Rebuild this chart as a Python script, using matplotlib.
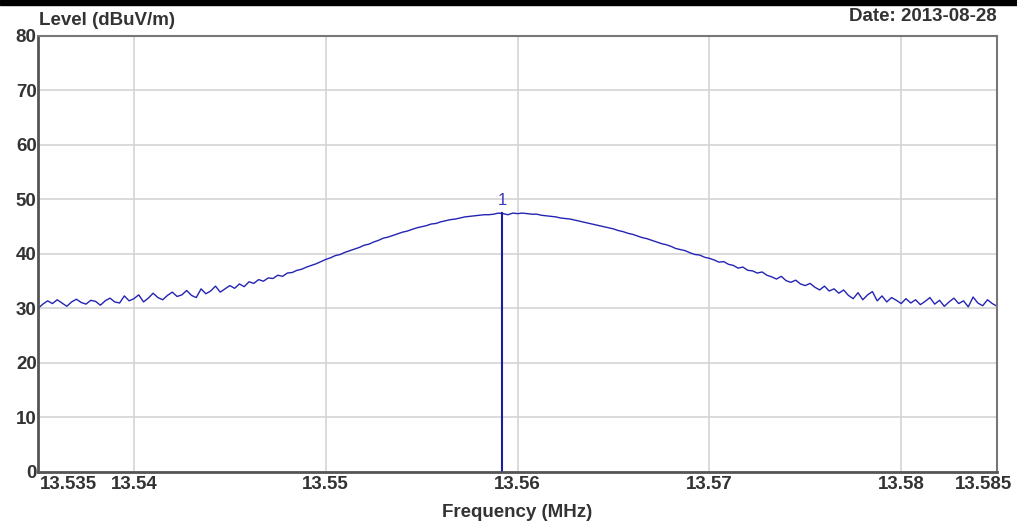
import matplotlib
matplotlib.use("Agg")
import matplotlib.pyplot as plt
import matplotlib.transforms as mtransforms

plt.rcParams['font.family'] = ['Liberation Sans', 'DejaVu Sans']

# sweep readings (MHz, dBuV/m)
freq = [
    13.53500, 13.53525, 13.53550, 13.53575, 13.53600, 13.53625, 13.53650, 13.53675,
    13.53700, 13.53725, 13.53750, 13.53775, 13.53800, 13.53825, 13.53850, 13.53875,
    13.53900, 13.53925, 13.53950, 13.53975, 13.54000, 13.54025, 13.54050, 13.54075,
    13.54100, 13.54125, 13.54150, 13.54175, 13.54200, 13.54225, 13.54250, 13.54275,
    13.54300, 13.54325, 13.54350, 13.54375, 13.54400, 13.54425, 13.54450, 13.54475,
    13.54500, 13.54525, 13.54550, 13.54575, 13.54600, 13.54625, 13.54650, 13.54675,
    13.54700, 13.54725, 13.54750, 13.54775, 13.54800, 13.54825, 13.54850, 13.54875,
    13.54900, 13.54925, 13.54950, 13.54975, 13.55000, 13.55025, 13.55050, 13.55075,
    13.55100, 13.55125, 13.55150, 13.55175, 13.55200, 13.55225, 13.55250, 13.55275,
    13.55300, 13.55325, 13.55350, 13.55375, 13.55400, 13.55425, 13.55450, 13.55475,
    13.55500, 13.55525, 13.55550, 13.55575, 13.55600, 13.55625, 13.55650, 13.55675,
    13.55700, 13.55725, 13.55750, 13.55775, 13.55800, 13.55825, 13.55850, 13.55875,
    13.55900, 13.55925, 13.55950, 13.55975, 13.56000, 13.56025, 13.56050, 13.56075,
    13.56100, 13.56125, 13.56150, 13.56175, 13.56200, 13.56225, 13.56250, 13.56275,
    13.56300, 13.56325, 13.56350, 13.56375, 13.56400, 13.56425, 13.56450, 13.56475,
    13.56500, 13.56525, 13.56550, 13.56575, 13.56600, 13.56625, 13.56650, 13.56675,
    13.56700, 13.56725, 13.56750, 13.56775, 13.56800, 13.56825, 13.56850, 13.56875,
    13.56900, 13.56925, 13.56950, 13.56975, 13.57000, 13.57025, 13.57050, 13.57075,
    13.57100, 13.57125, 13.57150, 13.57175, 13.57200, 13.57225, 13.57250, 13.57275,
    13.57300, 13.57325, 13.57350, 13.57375, 13.57400, 13.57425, 13.57450, 13.57475,
    13.57500, 13.57525, 13.57550, 13.57575, 13.57600, 13.57625, 13.57650, 13.57675,
    13.57700, 13.57725, 13.57750, 13.57775, 13.57800, 13.57825, 13.57850, 13.57875,
    13.57900, 13.57925, 13.57950, 13.57975, 13.58000, 13.58025, 13.58050, 13.58075,
    13.58100, 13.58125, 13.58150, 13.58175, 13.58200, 13.58225, 13.58250, 13.58275,
    13.58300, 13.58325, 13.58350, 13.58375, 13.58400, 13.58425, 13.58450, 13.58475,
    13.58500,
]
level = [
    30.0, 30.8, 31.4, 30.9, 31.6, 31.0, 30.4, 31.2, 31.7, 31.1,
    30.8, 31.5, 31.3, 30.6, 31.4, 31.9, 31.2, 31.0, 32.3, 31.4,
    31.8, 32.5, 31.2, 31.9, 32.8, 32.0, 31.6, 32.4, 33.0, 32.2,
    32.5, 33.3, 32.4, 32.0, 33.6, 32.7, 33.2, 34.1, 33.0, 33.6,
    34.2, 33.7, 34.5, 34.0, 34.9, 34.6, 35.3, 35.0, 35.6, 35.5,
    36.1, 35.9, 36.5, 36.6, 37.0, 37.2, 37.6, 37.9, 38.2, 38.6,
    39.0, 39.3, 39.7, 39.9, 40.3, 40.6, 40.9, 41.2, 41.6, 41.8,
    42.2, 42.5, 42.9, 43.1, 43.4, 43.7, 44.0, 44.2, 44.5, 44.8,
    45.0, 45.2, 45.5, 45.6, 45.9, 46.1, 46.3, 46.4, 46.6, 46.8,
    46.9, 47.0, 47.1, 47.2, 47.2, 47.3, 47.5, 47.4, 47.2, 47.5,
    47.4, 47.5, 47.4, 47.3, 47.3, 47.1, 47.0, 46.9, 46.8, 46.6,
    46.5, 46.4, 46.2, 46.0, 45.8, 45.6, 45.4, 45.2, 45.0, 44.8,
    44.6, 44.3, 44.1, 43.8, 43.6, 43.3, 43.0, 42.8, 42.5, 42.2,
    41.9, 41.7, 41.4, 41.0, 40.8, 40.6, 40.2, 39.9, 39.8, 39.4,
    39.2, 38.9, 38.5, 38.6, 38.1, 37.9, 37.4, 37.6, 37.0, 36.9,
    36.5, 36.7, 36.1, 35.8, 35.4, 35.9, 35.1, 34.8, 35.2, 34.5,
    34.2, 34.6, 33.9, 33.4, 34.1, 33.2, 33.6, 32.8, 33.4, 32.4,
    31.8, 32.9, 31.6, 32.5, 33.1, 31.4, 32.3, 31.2, 32.0, 31.5,
    30.9, 31.8, 31.0, 31.6, 30.7, 31.3, 32.0, 30.8, 31.5, 30.4,
    31.2, 31.9, 30.9, 31.4, 30.3, 32.1, 31.0, 30.5, 31.6, 30.9,
    30.4,
]

marker_freq = 13.5592
marker_level = 47.5
marker_name = "1"

xticks = [13.535, 13.54, 13.55, 13.56, 13.57, 13.58, 13.585]
xtick_labels = ["13.535", "13.54", "13.55", "13.56", "13.57", "13.58", "13.585"]
yticks = [0, 10, 20, 30, 40, 50, 60, 70, 80]

txt = '#333333'
trace = '#2424b4'

fig = plt.figure(figsize=(10.17, 5.29), dpi=100, facecolor='w')
ax = fig.add_axes([0.0374, 0.1078, 0.9430, 0.8242])

ax.plot(freq, level, color=trace, linewidth=1.0)
ax.plot([marker_freq, marker_freq], [0, marker_level], color='#1c1ca0', linewidth=1.5)
ax.text(marker_freq, marker_level + 1.0, marker_name, color='#3a3ab8',
        fontsize=12, ha='center', va='bottom')

ax.set_xlim(13.535, 13.585)
ax.set_ylim(0, 80)
ax.set_xticks(xticks)
ax.set_xticklabels(xtick_labels)
ax.set_yticks(yticks)
ax.grid(True, color='#d4d4d4', linewidth=1.2)
ax.set_axisbelow(True)
ax.tick_params(length=0, labelsize=13.5, labelcolor=txt, pad=3)
for lab in ax.get_xticklabels() + ax.get_yticklabels():
    lab.set_fontweight('bold')
ax.tick_params(axis='y', pad=1)

# edge tick labels are pushed inward
labs = ax.get_xticklabels()
labs[0].set_transform(labs[0].get_transform() + mtransforms.ScaledTranslation(0.30, 0, fig.dpi_scale_trans))
labs[-1].set_transform(labs[-1].get_transform() + mtransforms.ScaledTranslation(-0.14, 0, fig.dpi_scale_trans))

for side in ['left', 'bottom']:
    ax.spines[side].set_color('#555555')
    ax.spines[side].set_linewidth(2.0)
for side in ['top', 'right']:
    ax.spines[side].set_color('#777777')
    ax.spines[side].set_linewidth(1.5)

fig.text(0.038, 0.962, "Level (dBuV/m)", fontsize=13.5, fontweight='bold', color=txt,
         ha='left', va='center')
fig.text(0.980, 0.968, "Date: 2013-08-28", fontsize=13.5, fontweight='bold', color=txt,
         ha='right', va='center')
fig.text(0.508, 0.032, "Frequency (MHz)", fontsize=13.5, fontweight='bold', color=txt,
         ha='center', va='center')

# black strip along the top edge
fig.add_artist(plt.Rectangle((0, 0.991), 1, 0.009, transform=fig.transFigure,
                             color='black'))

plt.savefig("out.png", dpi=100)
